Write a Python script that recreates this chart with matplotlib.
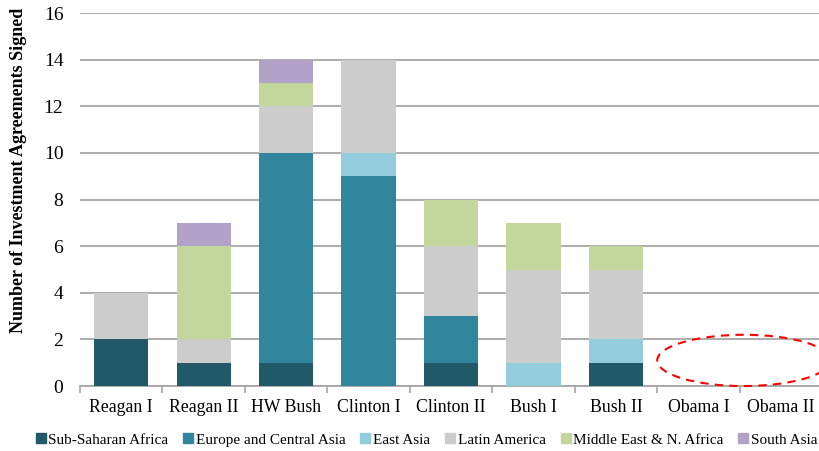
import matplotlib.pyplot as plt
from matplotlib.patches import Ellipse
from matplotlib.lines import Line2D
import numpy as np

terms = ["Reagan I", "Reagan II", "HW Bush", "Clinton I", "Clinton II",
         "Bush I", "Bush II", "Obama I", "Obama II"]
regions = ["Sub-Saharan Africa", "Europe and Central Asia", "East Asia",
           "Latin America", "Middle East & N. Africa", "South Asia"]
sub_saharan = [2, 1, 1, 0, 1, 0, 1, 0, 0]
europe_central = [0, 0, 9, 9, 2, 0, 0, 0, 0]
east_asia = [0, 0, 0, 1, 0, 1, 1, 0, 0]
latin_america = [2, 1, 2, 4, 3, 4, 3, 0, 0]
middle_east = [0, 4, 1, 0, 2, 2, 1, 0, 0]
south_asia = [0, 1, 1, 0, 0, 0, 0, 0, 0]
colors = ["#215968", "#31859C", "#93CDDD", "#CCCCCC", "#C3D69B", "#B3A2C7"]

plt.rcParams['font.family'] = ['Liberation Serif', 'DejaVu Serif']

fig = plt.figure(figsize=(8.2, 4.51), dpi=100)
ax = fig.add_axes([0.0976, 0.144, 0.905, 0.827])

x = np.arange(len(terms))
bottom = np.zeros(len(terms))
for name, vals, c in zip(regions,
                         [sub_saharan, europe_central, east_asia, latin_america,
                          middle_east, south_asia], colors):
    ax.bar(x, vals, width=0.66, bottom=bottom, color=c, label=name, zorder=3)
    bottom += np.array(vals)

ax.set_ylim(0, 16)
ax.set_xlim(-0.5, len(terms) - 0.5)
ax.set_yticks(range(0, 17, 2))
ax.yaxis.grid(True, color="#A6A6A6", linewidth=1.3, zorder=0)
ax.tick_params(axis="y", length=0, labelsize=14, pad=12)
ax.set_xticks(x)
ax.set_xticklabels(terms, fontsize=12.8)
ax.tick_params(axis="x", which="major", length=0, pad=9)
ax.set_xticks(np.arange(-0.5, len(terms), 1), minor=True)
ax.tick_params(axis="x", which="minor", length=5, color="#A6A6A6", width=1.2)
for s in ["left", "right", "top"]:
    ax.spines[s].set_visible(False)
ax.spines["bottom"].set_color("#A6A6A6")
ax.spines["bottom"].set_linewidth(1.3)
fig.text(0.022, 0.623, "Number of Investment Agreements Signed", fontsize=13,
         fontweight="bold", rotation=90, ha="center", va="center")

ell = Ellipse((7.55, 1.1), 2.1, 2.2, fill=False, edgecolor="#FF0000",
              linestyle=(0, (4, 3)), linewidth=1.5, clip_on=False, zorder=4)
ax.add_patch(ell)

handles = [Line2D([], [], marker="s", linestyle="", markersize=7,
                  markerfacecolor=c, markeredgecolor=c) for c in colors]
fig.legend(handles, regions, loc="center", bbox_to_anchor=(0.52, 0.025),
           ncol=6, frameon=False, fontsize=11, handlelength=0.7,
           handletextpad=0.15, columnspacing=0.95)

fig.savefig("out.png", dpi=100)
